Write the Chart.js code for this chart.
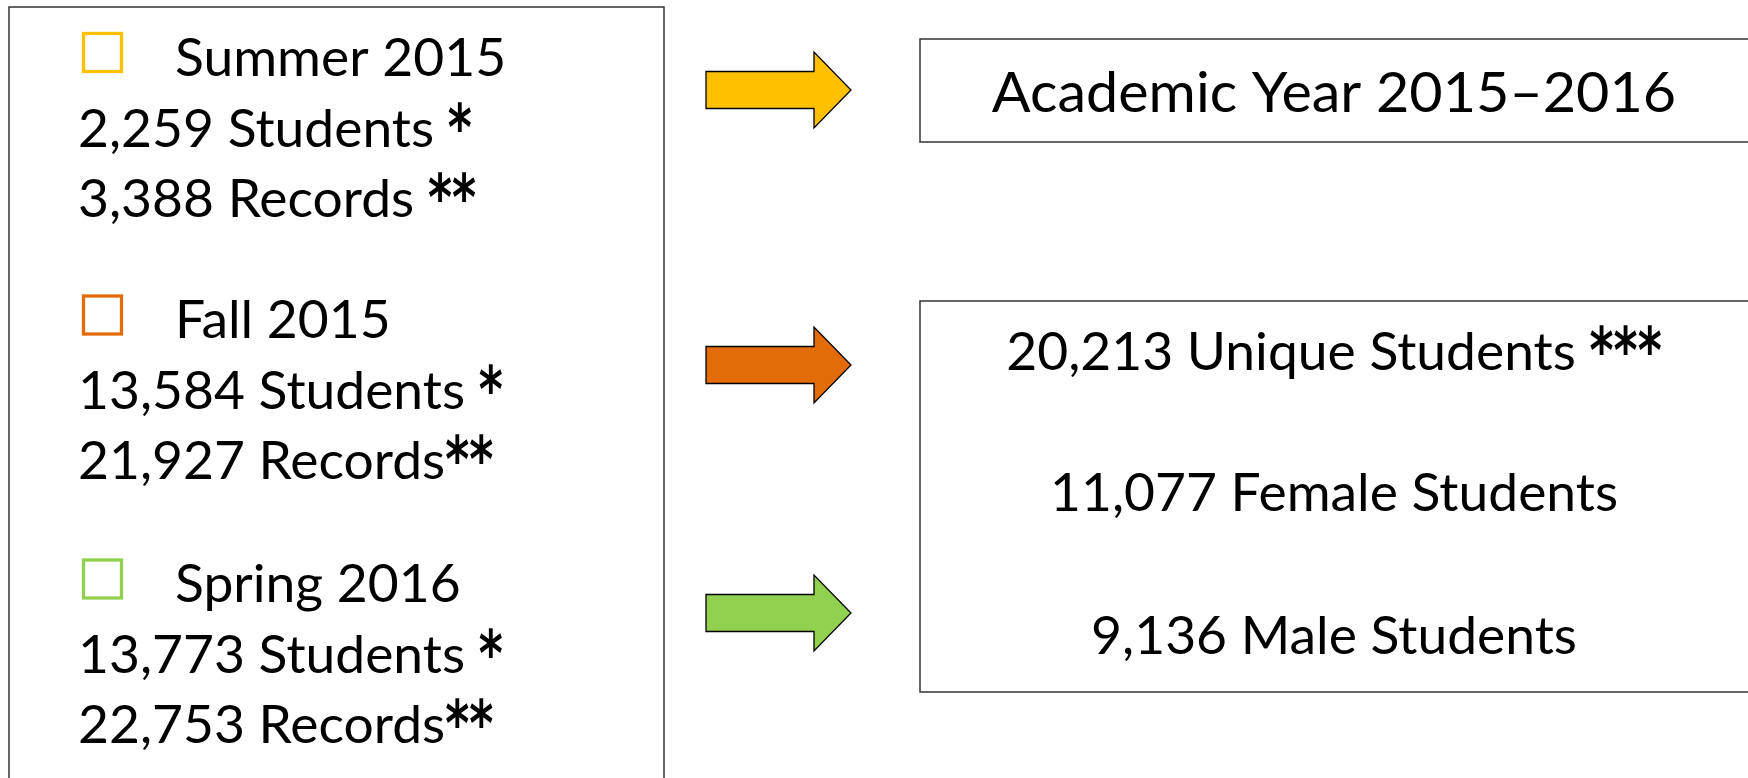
<!DOCTYPE html>
<html><head><meta charset="utf-8">
<script src="https://cdn.jsdelivr.net/npm/chart.js@4/dist/chart.umd.min.js"></script>
<style>html,body{margin:0;padding:0;background:#fff;overflow:hidden}#wrap{width:1748px;height:778px}</style>
</head><body><div id="wrap"><canvas id="c" width="1748" height="778"></canvas></div>
<script>
// ---- data ----
const seasons = ['Summer 2015', 'Fall 2015', 'Spring 2016'];
const seasonStudents = [2259, 13584, 13773];
const seasonRecords = [3388, 21927, 22753];
const studentMarks = [' *', ' *', ' *'];
const recordMarks = [' **', '**', '**'];
const seasonColors = ['#FFC000', '#E36C09', '#92D050'];
const yearLabel = 'Academic Year 2015\u20132016';
const uniqueStudents = 20213;
const uniqueMark = ' ***';
const femaleStudents = 11077;
const maleStudents = 9136;

// ---- layout (scale units == pixels) ----
const L = {
  leftBox: [9, 7, 664, 800],
  sqX: 83.5, sqSize: 38, sqTop: [33.5, 296, 560],
  labelX: 175, textX: 78, base: [76, 338, 602], dy1: 71, dy2: 141,
  arrowX0: 706, arrowHeadX: 814, arrowX1: 851, arrowY: [90, 365, 613], shaftH: 18.5, headH: 38,
  box1: [920, 39, 1770, 142], box1Base: 112,
  box2: [920, 301, 1770, 692], box2Base: [370, 511, 654], centerX: 1334
};
const FONT = 'Lato, "Open Sans", sans-serif';
const STAR_FONT = 'bold 64px "DejaVu Sans", sans-serif';
const STAR_SHIFT = 3;
const FS = 52;
const FS_TITLE = 56;
const fmt = n => n.toLocaleString('en-US');

const drawPlugin = {
  id: 'diagram',
  afterDraw(chart) {
    const ctx = chart.ctx, xs = chart.scales.x, ys = chart.scales.y;
    const X = v => xs.getPixelForValue(v), Y = v => ys.getPixelForValue(v);
    ctx.save();
    ctx.font = FS + 'px ' + FONT;
    const sx = 568 / ctx.measureText(fmt(femaleStudents) + ' Female Students').width;
    function text(str, x, y, align, marks, size) {
      marks = marks || '';
      size = size || FS;
      const lead = marks.startsWith(' ') ? ' ' : '';
      const stars = marks.trim();
      ctx.save();
      ctx.font = size + 'px ' + FONT;
      const w1 = ctx.measureText(str + lead).width * sx;
      ctx.font = STAR_FONT;
      const w2 = stars ? ctx.measureText(stars).width * 0.72 : 0;
      let x0 = X(x);
      if (align === 'center') x0 -= (w1 + w2) / 2;
      ctx.fillStyle = '#000';
      ctx.textBaseline = 'alphabetic';
      ctx.textAlign = 'left';
      ctx.translate(x0, Y(y));
      ctx.save();
      ctx.scale(sx, 1);
      ctx.font = size + 'px ' + FONT;
      ctx.fillText(str + lead, 0, 0);
      ctx.restore();
      if (stars) {
        ctx.translate(w1, STAR_SHIFT);
        ctx.scale(0.72, 1);
        ctx.font = STAR_FONT;
        ctx.fillText(stars, 0, 0);
      }
      ctx.restore();
    }
    function rect(b, color, lw) {
      ctx.strokeStyle = color; ctx.lineWidth = lw;
      ctx.strokeRect(X(b[0]), Y(b[1]), X(b[2]) - X(b[0]), Y(b[3]) - Y(b[1]));
    }
    rect(L.leftBox, '#333', 1.5);
    seasons.forEach((s, i) => {
      ctx.strokeStyle = seasonColors[i]; ctx.lineWidth = 3.3;
      ctx.strokeRect(X(L.sqX), Y(L.sqTop[i]), X(L.sqX + L.sqSize) - X(L.sqX), Y(L.sqTop[i] + L.sqSize) - Y(L.sqTop[i]));
      text(s, L.labelX, L.base[i]);
      text(fmt(seasonStudents[i]) + ' Students', L.textX, L.base[i] + L.dy1, 'left', studentMarks[i]);
      text(fmt(seasonRecords[i]) + ' Records', L.textX, L.base[i] + L.dy2, 'left', recordMarks[i]);
      const cy = L.arrowY[i];
      ctx.beginPath();
      ctx.moveTo(X(L.arrowX0), Y(cy - L.shaftH));
      ctx.lineTo(X(L.arrowHeadX), Y(cy - L.shaftH));
      ctx.lineTo(X(L.arrowHeadX), Y(cy - L.headH));
      ctx.lineTo(X(L.arrowX1), Y(cy));
      ctx.lineTo(X(L.arrowHeadX), Y(cy + L.headH));
      ctx.lineTo(X(L.arrowHeadX), Y(cy + L.shaftH));
      ctx.lineTo(X(L.arrowX0), Y(cy + L.shaftH));
      ctx.closePath();
      ctx.fillStyle = seasonColors[i]; ctx.fill();
      ctx.strokeStyle = '#000'; ctx.lineWidth = 1.3; ctx.stroke();
    });
    rect(L.box1, '#333', 1.5);
    text(yearLabel, L.centerX, L.box1Base, 'center', '', FS_TITLE);
    rect(L.box2, '#333', 1.5);
    text(fmt(uniqueStudents) + ' Unique Students', L.centerX, L.box2Base[0], 'center', uniqueMark);
    text(fmt(femaleStudents) + ' Female Students', L.centerX, L.box2Base[1], 'center');
    text(fmt(maleStudents) + ' Male Students', L.centerX, L.box2Base[2], 'center');
    ctx.restore();
  }
};

new Chart(document.getElementById('c'), {
  type: 'scatter',
  data: { datasets: [{ data: [], pointRadius: 0 }] },
  options: {
    responsive: false, animation: false, devicePixelRatio: 1,
    layout: { padding: 0 },
    plugins: { legend: { display: false }, tooltip: { enabled: false } },
    scales: {
      x: { type: 'linear', min: 0, max: 1748, display: false },
      y: { type: 'linear', min: 0, max: 778, reverse: true, display: false }
    }
  },
  plugins: [drawPlugin]
});
</script></body></html>
